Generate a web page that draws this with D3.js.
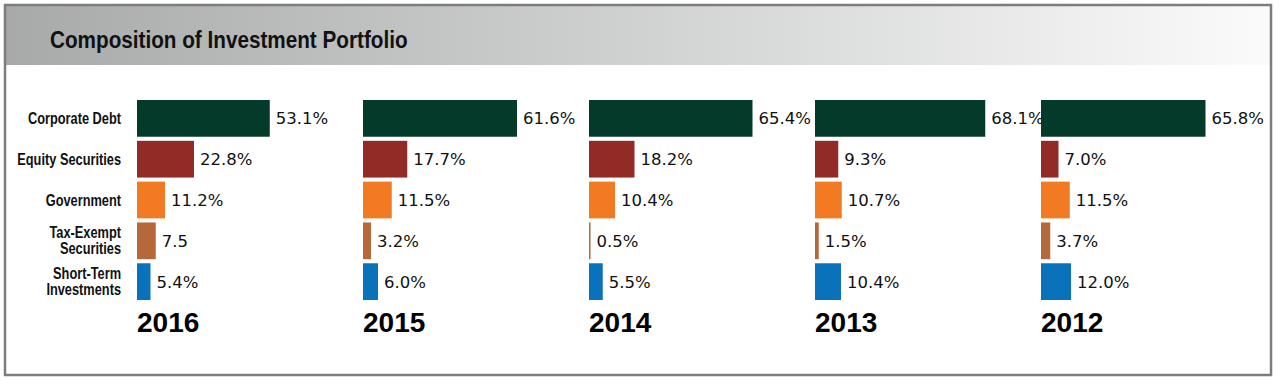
<!DOCTYPE html>
<html>
<head>
<meta charset="utf-8">
<script src="https://cdn.jsdelivr.net/npm/d3@7.9.0/dist/d3.min.js"></script>
<style>
  html, body { margin: 0; padding: 0; background: #fff; }
  svg { display: block; }
</style>
</head>
<body>
<svg id="chart"></svg>
<script>
// data
const years = ['2016', '2015', '2014', '2013', '2012'];
const categories = ['Corporate Debt', 'Equity Securities', 'Government', 'Tax-Exempt Securities', 'Short-Term Investments'];
const categoryLines = [['Corporate Debt'], ['Equity Securities'], ['Government'], ['Tax-Exempt', 'Securities'], ['Short-Term', 'Investments']];
const corporateDebt = [53.1, 61.6, 65.4, 68.1, 65.8];
const equitySecurities = [22.8, 17.7, 18.2, 9.3, 7.0];
const government = [11.2, 11.5, 10.4, 10.7, 11.5];
const taxExempt = [7.5, 3.2, 0.5, 1.5, 3.7];
const shortTerm = [5.4, 6.0, 5.5, 10.4, 12.0];
// the 2016 tax-exempt label has no % sign in the original
const bareLabel = { year: '2016', category: 'Tax-Exempt Securities' };
const colorList = ['#033a2a', '#922a26', '#f27a22', '#b6683b', '#0a72ba'];

const series = [corporateDebt, equitySecurities, government, taxExempt, shortTerm];

const width = 1280;
const height = 386;
const condensed = '"Liberation Sans", Arial, sans-serif';

const svg = d3.select('#chart').attr('width', width).attr('height', height);

// header gradient
const defs = svg.append('defs');
const grad = defs.append('linearGradient').attr('id', 'hdr').attr('x1', 0).attr('x2', 1).attr('y1', 0).attr('y2', 0);
grad.append('stop').attr('offset', 0).attr('stop-color', '#a8a9a9');
grad.append('stop').attr('offset', 0.5).attr('stop-color', '#d0d1d1');
grad.append('stop').attr('offset', 1).attr('stop-color', '#fbfbfb');

// frame
svg.append('rect')
  .attr('x', 6).attr('y', 6).attr('width', 1265).attr('height', 59)
  .attr('fill', 'url(#hdr)');
svg.append('rect')
  .attr('x', 5).attr('y', 5).attr('width', 1266).attr('height', 370)
  .attr('fill', 'none').attr('stroke', '#7d7d7d').attr('stroke-width', 2.5);

// title, squeezed sideways to look like a condensed face
svg.append('g')
  .attr('transform', 'translate(50,48) scale(0.9,1)')
  .append('text')
  .attr('font-family', condensed)
  .attr('font-weight', 'bold')
  .attr('font-size', 23)
  .attr('fill', '#111')
  .text('Composition of Investment Portfolio');

// scales
const panelX = d3.scalePoint().domain(years).range([137, 1041]);
const y = d3.scaleBand().domain(categories).range([100, 300]).paddingInner(0.1).paddingOuter(0);
const x = d3.scaleLinear().domain([0, 100]).range([0, 250]);
const color = d3.scaleOrdinal().domain(categories).range(colorList);

// category labels
categories.forEach((c, i) => {
  const lines = categoryLines[i];
  const cy = y(c) + y.bandwidth() / 2 - (lines.length - 1) * 8;
  const t = svg.append('g')
    .attr('transform', `translate(121,${cy}) scale(0.8,1)`)
    .append('text')
    .attr('font-family', condensed)
    .attr('font-weight', 'bold')
    .attr('font-size', 16)
    .attr('fill', '#111')
    .attr('text-anchor', 'end');
  lines.forEach((ln, j) => {
    t.append('tspan').attr('x', 0).attr('y', j * 16).attr('dy', '0.35em').text(ln);
  });
});

// panels
const fmt = d => d.toFixed(1) + '%';

years.forEach((yr, yi) => {
  const g = svg.append('g').attr('transform', `translate(${panelX(yr)},0)`);
  const rows = categories.map((c, ci) => ({ category: c, value: series[ci][yi] }));

  g.selectAll('rect')
    .data(rows)
    .join('rect')
    .attr('x', 0)
    .attr('y', d => y(d.category))
    .attr('width', d => Math.max(1.5, x(d.value)))
    .attr('height', y.bandwidth())
    .attr('fill', d => color(d.category));

  g.selectAll('text.val')
    .data(rows)
    .join('text')
    .attr('class', 'val')
    .attr('x', d => Math.max(1.5, x(d.value)) + 6)
    .attr('y', d => y(d.category) + y.bandwidth() / 2)
    .attr('dy', '0.36em')
    .attr('font-family', '"DejaVu Sans", sans-serif')
    .attr('font-size', 16.5)
    .attr('fill', '#111')
    .text(d => (yr === bareLabel.year && d.category === bareLabel.category) ? d.value.toFixed(1) : fmt(d.value));

  g.append('text')
    .attr('x', 0)
    .attr('y', 332)
    .attr('font-family', '"Liberation Sans", Arial, sans-serif')
    .attr('font-weight', 'bold')
    .attr('font-size', 28)
    .attr('fill', '#000')
    .text(yr);
});
</script>
</body>
</html>
